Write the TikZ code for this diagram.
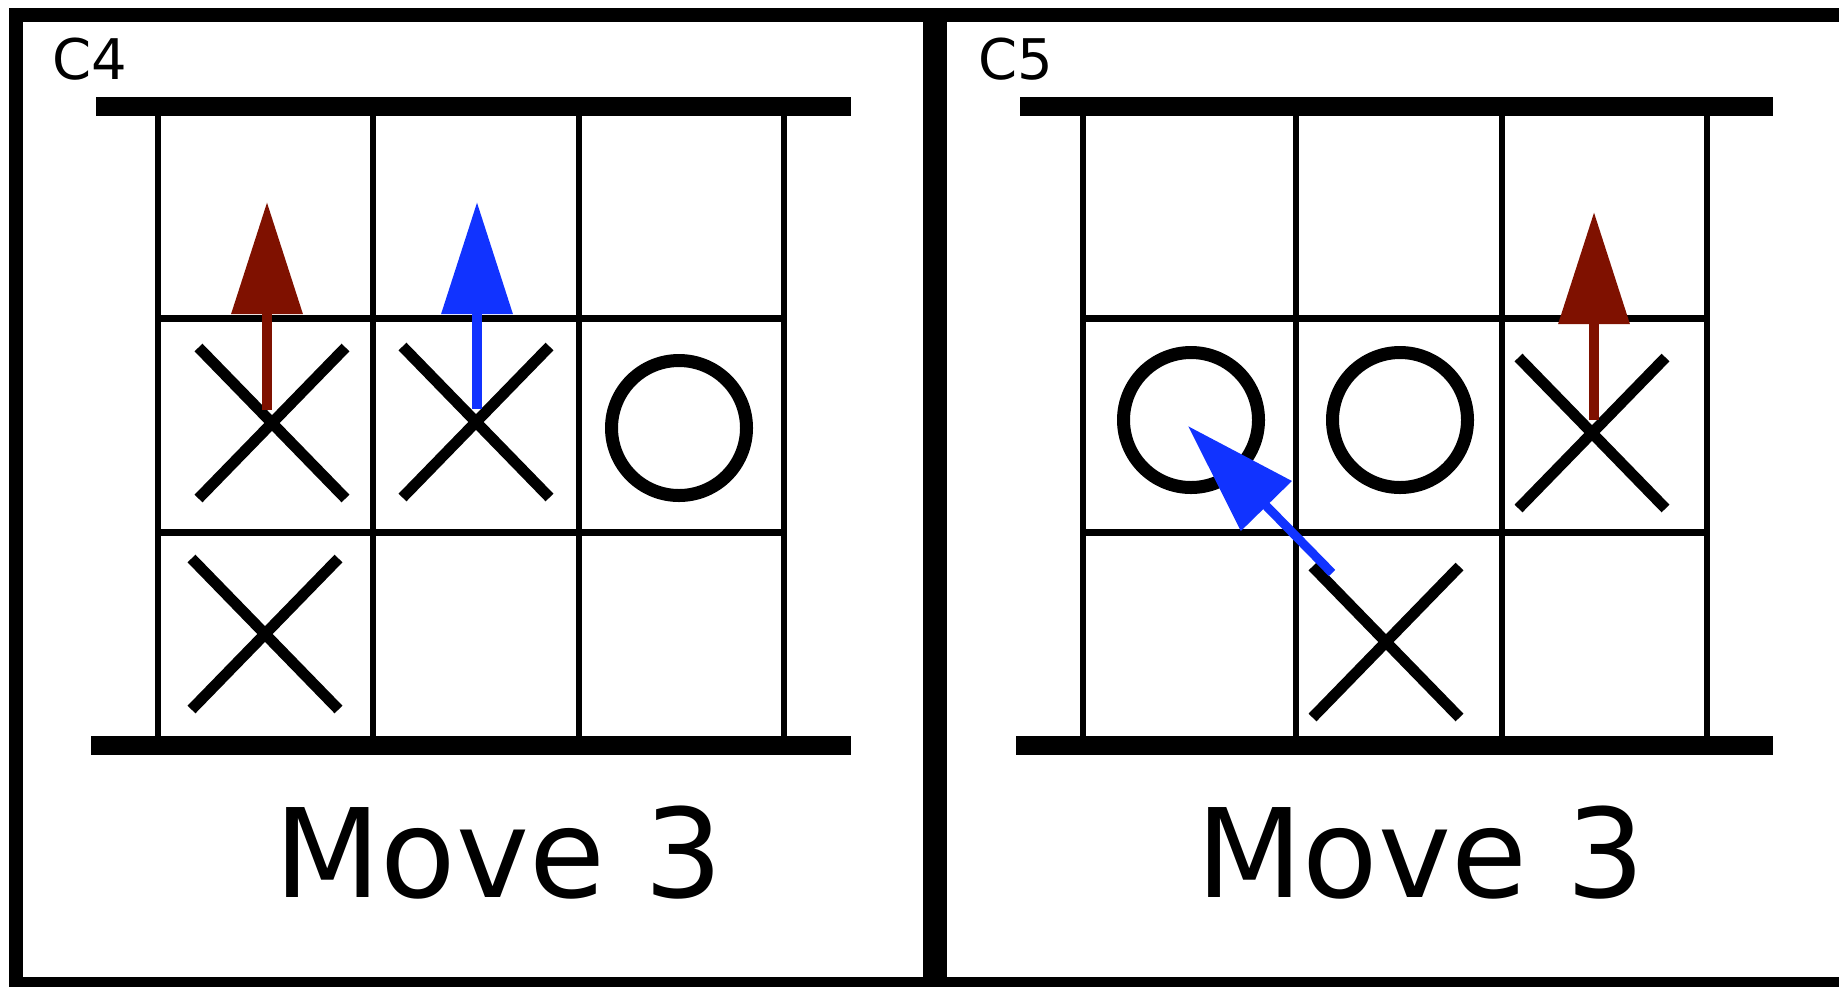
\documentclass[tikz,border=0pt]{standalone}
\usepackage{fontspec}
\setmainfont{DejaVu Sans}
\usetikzlibrary{arrows.meta,shapes.misc}
\definecolor{mred}{RGB}{127,17,0}
\definecolor{mblue}{RGB}{17,51,255}
\begin{document}
\begin{tikzpicture}[x=0.5pt,y=-0.5pt,
  frameline/.style={line width=7pt},
  sepline/.style={line width=12pt},
  bar/.style={line width=9.5pt},
  vline/.style={line width=2.6pt},
  hline/.style={line width=3.5pt},
  xmark/.style={cross out,draw,line width=5.5pt,minimum width=68pt,minimum height=70pt,inner sep=0pt},
  omark/.style={circle,draw,line width=6.5pt,minimum size=67.5pt,inner sep=0pt},
  mv/.style={-{Triangle[length=56pt,width=34.5pt]},line width=5pt},
  lbl/.style={anchor=base west,inner sep=0pt,font=\fontsize{28pt}{30pt}\selectfont},
  title/.style={anchor=base west,inner sep=0pt,font=\fontsize{61.7pt}{64pt}\selectfont}]
\useasboundingbox (0,0) rectangle (1839,986);
\clip (0,0) rectangle (1839,986);
% outer frame and separator
\draw[frameline] (15.5,15) rectangle (1880,984);
\draw[sepline] (935,15) -- (935,984);

% ===== left panel C4 =====
\node[lbl] (c4) at (52,79) {C4};
\draw[bar] (96,106.5) -- (851,106.5);
\draw[bar] (91,745.5) -- (851,745.5);
\foreach \x in {158,373,579,784} \draw[vline] (\x,116) -- (\x,736);
\foreach \y in {318,532} \draw[hline] (158,\y) -- (784,\y);
\node[xmark] (lx1) at (272,423) {};
\node[xmark] (lx2) at (476,422) {};
\node[omark] (lo1) at (679,428) {};
\node[xmark] (lx3) at (265,634) {};
\coordinate (lr0) at (267,410);
\coordinate (lr1) at (267,202);
\coordinate (lb0) at (477,409);
\coordinate (lb1) at (477,202);
\draw[mv,mred] (lr0) -- (lr1);
\draw[mv,mblue] (lb0) -- (lb1);
\node[title] (lt) at (274,897) {Move 3};

% ===== right panel C5 =====
\node[lbl] (c5) at (978,79) {C5};
\draw[bar] (1020,106.5) -- (1773,106.5);
\draw[bar] (1016,745.5) -- (1773,745.5);
\foreach \x in {1083,1296,1502,1707} \draw[vline] (\x,116) -- (\x,736);
\foreach \y in {318,532} \draw[hline] (1083,\y) -- (1707,\y);
\node[omark] (ro1) at (1191,420) {};
\node[omark] (ro2) at (1400,420) {};
\node[xmark] (rx1) at (1592,433) {};
\node[xmark] (rx2) at (1386,642) {};
\coordinate (rr0) at (1594,420);
\coordinate (rr1) at (1594,212);
\coordinate (rb0) at (1332,573);
\coordinate (rb1) at (1188,426);
\draw[mv,mred] (rr0) -- (rr1);
\draw[mv,mblue,line width=4.5pt] (rb0) -- (rb1);
\node[title] (rt) at (1196,897) {Move 3};
\end{tikzpicture}
\end{document}
